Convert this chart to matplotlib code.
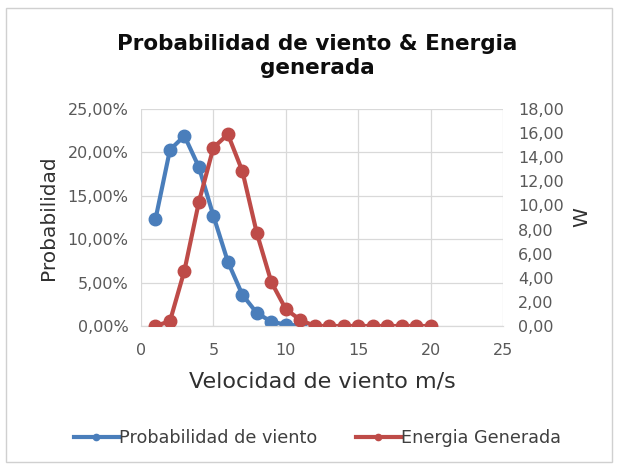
import matplotlib
matplotlib.use("Agg")
import matplotlib.pyplot as plt
from matplotlib.ticker import FuncFormatter, MultipleLocator
from matplotlib.patches import Rectangle

velocidad_prob = [1, 2, 3, 4, 5, 6, 7, 8, 9, 10, 11]
probabilidad = [12.3, 20.3, 21.9, 18.3, 12.7, 7.4, 3.6, 1.5, 0.5, 0.15, 0.05]
velocidad_energia = [1, 2, 3, 4, 5, 6, 7, 8, 9, 10, 11, 12, 13, 14, 15, 16, 17, 18, 19, 20]
energia = [0.0, 0.4, 4.6, 10.3, 14.8, 15.9, 12.85, 7.7, 3.65, 1.4, 0.5,
           0.0, 0.0, 0.0, 0.0, 0.0, 0.0, 0.0, 0.0, 0.0]

plt.rcParams['font.family'] = ['DejaVu Sans']
blue = '#4A7EBB'
red = '#BE4B48'
grid_c = '#D9D9D9'
tick_c = '#595959'

fig = plt.figure(figsize=(6.18, 4.68), dpi=100)
fig.patches.append(Rectangle((6/618, 6/468), 606/618, 454/468, transform=fig.transFigure,
                             fill=False, edgecolor='#D0D0D0', linewidth=1))
ax = fig.add_axes([141/618, (468-326)/468, (503-141)/618, (326-109)/468])
ax2 = ax.twinx()

ax.plot(velocidad_prob, probabilidad, color=blue, lw=3, marker='o', ms=9,
        label='Probabilidad de viento', zorder=3)
ax2.plot(velocidad_energia, energia, color=red, lw=3, marker='o', ms=9,
         label='Energia Generada', zorder=3)

ax.set_xlim(0, 25)
ax.set_ylim(0, 25)
ax2.set_ylim(0, 18)
ax.xaxis.set_major_locator(MultipleLocator(5))
ax.yaxis.set_major_locator(MultipleLocator(5))
ax2.yaxis.set_major_locator(MultipleLocator(2))
ax.yaxis.set_major_formatter(FuncFormatter(lambda v, p: f"{v:.2f}%".replace('.', ',')))
ax2.yaxis.set_major_formatter(FuncFormatter(lambda v, p: f"{v:.2f}".replace('.', ',')))

ax.grid(True, color=grid_c, lw=0.9)
ax.set_axisbelow(True)
for a in (ax, ax2):
    for s in ('top', 'left', 'right'):
        a.spines[s].set_visible(False)
    a.spines['bottom'].set_color(grid_c)
    a.tick_params(length=0, labelsize=11.5, colors=tick_c)
ax.tick_params(axis='y', pad=9)
ax.tick_params(axis='x', pad=12)
ax2.tick_params(axis='y', pad=11)

ax.set_xlabel('Velocidad de viento m/s', fontsize=16, color='#303030', labelpad=10)
ax.set_ylabel('Probabilidad', fontsize=14.5, color='#303030', labelpad=7)
ax2.set_ylabel('W', fontsize=14.5, color='#303030', labelpad=6)

fig.text(0.513, 1 - 56/468, 'Probabilidad de viento & Energia\ngenerada', ha='center', va='center',
         fontsize=15.5, fontweight='bold', color='#0D0D0D', linespacing=1.25)

h1, l1 = ax.get_legend_handles_labels()
h2, l2 = ax2.get_legend_handles_labels()
fig.legend(h1 + h2, l1 + l2, loc='center', bbox_to_anchor=(0.513, (468-438)/468),
           ncol=2, frameon=False, fontsize=12.7, handlelength=2.55, handletextpad=0.0,
           columnspacing=2.2, markerscale=0.5, labelcolor='#404040')

fig.savefig('out.png', dpi=100)
